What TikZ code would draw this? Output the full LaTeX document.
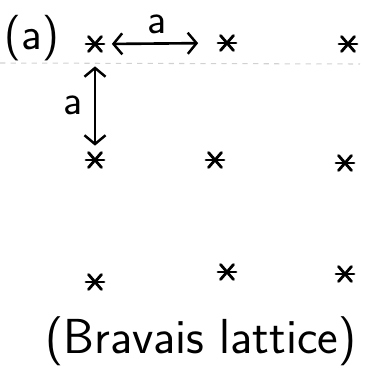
\documentclass[tikz,border=0pt]{standalone}
\usetikzlibrary{arrows.meta}
\begin{document}
\begin{tikzpicture}[
    x=0.02cm, y=-0.02cm,
    site/.style={inner sep=0pt, minimum width=0.42cm, minimum height=0.36cm,
      path picture={
        \draw[line width=1.6pt, line cap=round]
          ([xshift=0.03cm]path picture bounding box.west) -- ([xshift=-0.03cm]path picture bounding box.east);
        \draw[line width=1.6pt, line cap=round]
          ([xshift=0.08cm,yshift=-0.03cm]path picture bounding box.north west) -- ([xshift=-0.08cm,yshift=0.03cm]path picture bounding box.south east);
        \draw[line width=1.6pt, line cap=round]
          ([xshift=-0.08cm,yshift=-0.03cm]path picture bounding box.north east) -- ([xshift=0.08cm,yshift=0.03cm]path picture bounding box.south west);
      }},
    spacing/.style={{Straight Barb[length=5pt,width=12pt,line width=1.4pt]}-{Straight Barb[length=5pt,width=12pt,line width=1.4pt]}, line width=1.5pt},
    lbl/.style={font=\sffamily\fontsize{24}{24}\selectfont, inner sep=0pt},
  ]
\useasboundingbox (0,0) rectangle (366,376);

% faint scan line across the page
\draw[black!18, dashed, line width=0.6pt] (0,63) -- (360,64);

% lattice sites, row by row
\node[site] (s11) at (95,44) {};
\node[site] (s12) at (227,43) {};
\node[site] (s13) at (348,44) {};
\node[site] (s21) at (95,160) {};
\node[site] (s22) at (215,160) {};
\node[site] (s23) at (345,163) {};
\node[site] (s31) at (95,282) {};
\node[site] (s32) at (227,272) {};
\node[site] (s33) at (345,274) {};

% lattice spacing
\draw[spacing, shorten <=0.12cm, shorten >=0.36cm] (s11.east) -- (s12.west);
\draw[spacing, shorten <=0.26cm, shorten >=0.10cm] (s11.south) -- (s21.north);
\node[lbl] (ah) at (157,24) {a};
\node[lbl] (av) at (73,105) {a};

\node[lbl, font=\sffamily\fontsize{26}{28}\selectfont] (tag) at (32,38) {(a)};
\node[lbl, font=\sffamily\fontsize{28}{30}\selectfont] (name) at (201,341) {(Bravais lattice)};

\end{tikzpicture}
\end{document}
